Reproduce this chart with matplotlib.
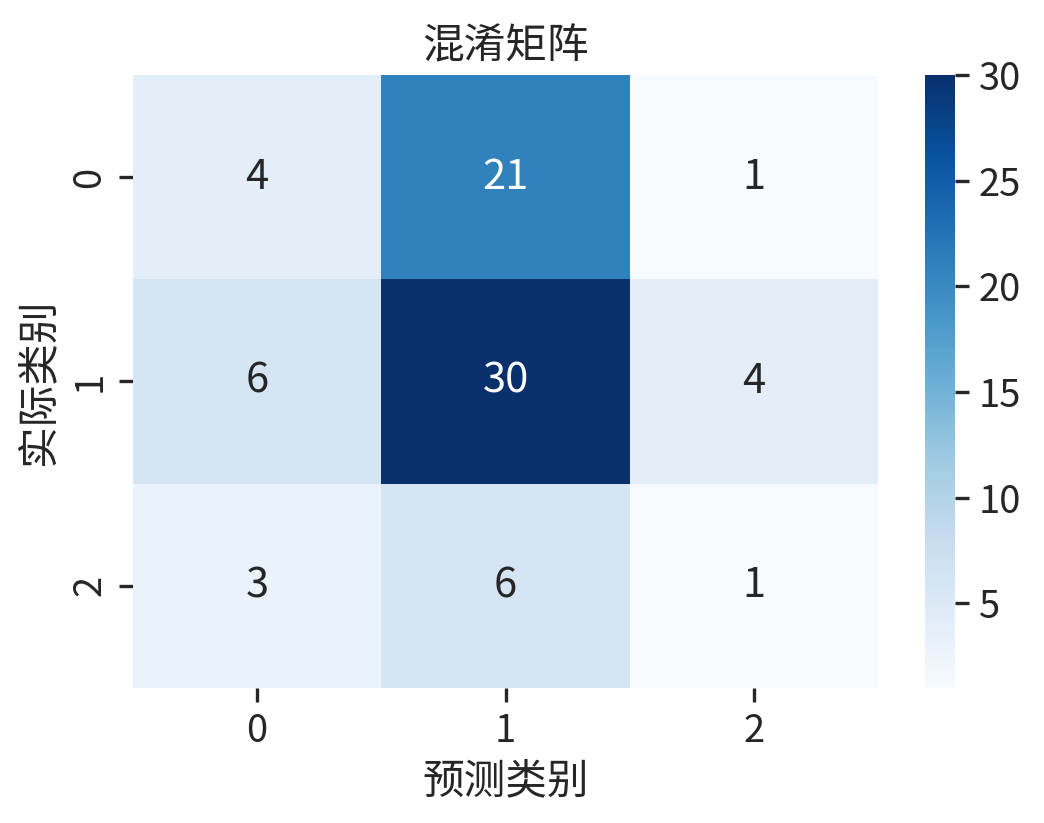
import matplotlib
matplotlib.use("Agg")
import matplotlib.pyplot as plt
import seaborn as sns
import numpy as np

# Confusion matrix values
labels = ["0", "1", "2"]
row_0 = [4, 21, 1]
row_1 = [6, 30, 4]
row_2 = [3, 6, 1]

cm = np.array([row_0, row_1, row_2])

sns.set_theme(style="white", font_scale=1.25)
plt.rcParams["font.family"] = ["Noto Sans CJK SC", "DejaVu Sans"]
plt.rcParams["axes.unicode_minus"] = False

fig = plt.figure(figsize=(5.22, 4.115), dpi=200)
ax = fig.add_axes([0.1274, 0.164, 0.7136, 0.745])
cax = fig.add_axes([0.886, 0.164, 0.029, 0.745])

sns.heatmap(cm, annot=True, fmt="d", cmap="Blues", ax=ax, cbar_ax=cax,
            xticklabels=labels, yticklabels=labels)

ax.tick_params(axis="both", which="major", length=5, width=1.2, color="#262626", bottom=True, left=True)
cax.tick_params(length=5, width=1.2, color="#262626", right=True)
cax.set_yticks([5, 10, 15, 20, 25, 30])

ax.set_title("混淆矩阵")
ax.set_xlabel("预测类别")
ax.set_ylabel("实际类别")

fig.savefig("out.png", dpi=200)
